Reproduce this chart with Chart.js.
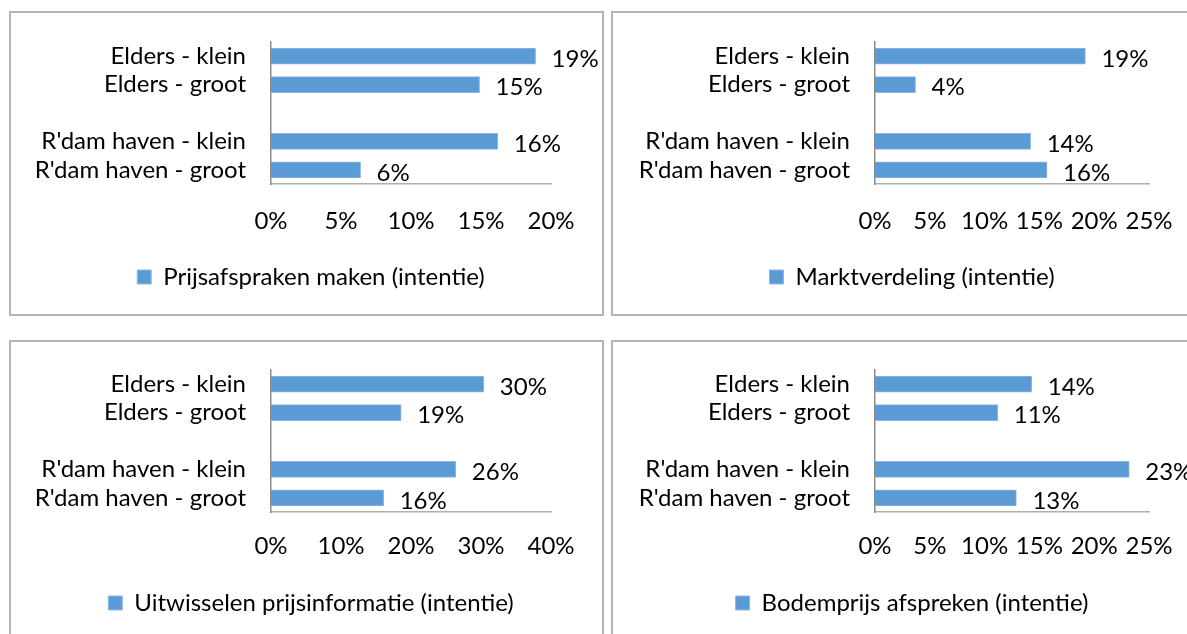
<!DOCTYPE html>
<html>
<head>
<meta charset="utf-8">
<script src="https://cdn.jsdelivr.net/npm/chart.js@4.4.1/dist/chart.umd.min.js"></script>
<style>
  body { margin: 0; background: #fff; width: 1187px; height: 634px; overflow: hidden; position: relative; }
  .panel { position: absolute; box-sizing: border-box; border: 2px solid #b4b4b4; width: 595px; height: 305px; }
  canvas { position: absolute; }
</style>
</head>
<body>
<div class="panel" style="left:9px; top:11px;"></div>
<div class="panel" style="left:611px; top:11px;"></div>
<div class="panel" style="left:9px; top:340px;"></div>
<div class="panel" style="left:611px; top:340px;"></div>
<canvas id="c1" width="604" height="305" style="left:9px; top:11px;"></canvas>
<canvas id="c2" width="602" height="305" style="left:611px; top:11px;"></canvas>
<canvas id="c3" width="604" height="305" style="left:9px; top:340px;"></canvas>
<canvas id="c4" width="602" height="305" style="left:611px; top:340px;"></canvas>
<script>
// categories (top to bottom), empty slot separates the two groups
const categories = ['Elders - klein', 'Elders - groot', '', "R'dam haven - klein", "R'dam haven - groot"];

// values in percent
const prijsafspraken = [18.9, 14.9, null, 16.2, 6.4];
const marktverdeling = [19.2, 3.7, null, 14.2, 15.7];
const prijsinformatie = [30.4, 18.6, null, 26.4, 16.1];
const bodemprijs = [14.3, 11.2, null, 23.2, 12.9];

const seriesNames = [
  'Prijsafspraken maken (intentie)',
  'Marktverdeling (intentie)',
  'Uitwisselen prijsinformatie (intentie)',
  'Bodemprijs afspreken (intentie)'
];
const axisMax = [20, 25, 40, 25];
const axisStep = [5, 5, 10, 5];

const BLUE = '#5b9bd5';
const FONT = 'Lato, Carlito, sans-serif';
const FS = 24;

Chart.defaults.font.family = FONT;
Chart.defaults.font.size = FS;
Chart.defaults.color = '#000';

// value labels at the end of each bar
const valueLabels = {
  id: 'valueLabels',
  afterDatasetsDraw(chart) {
    const ctx = chart.ctx;
    const data = chart.data.datasets[0].data;
    ctx.save();
    ctx.font = FS + 'px ' + FONT;
    ctx.fillStyle = '#000';
    ctx.textAlign = 'left';
    ctx.textBaseline = 'middle';
    chart.getDatasetMeta(0).data.forEach((bar, i) => {
      if (data[i] == null) return;
      ctx.fillText(Math.round(data[i]) + '%', bar.x + 16, bar.y + 3);
    });
    ctx.restore();
  }
};

function makeChart(id, name, values, max, step, geo) {
  return new Chart(document.getElementById(id), {
    type: 'bar',
    data: {
      labels: categories,
      datasets: [{
        label: name,
        data: values,
        backgroundColor: BLUE,
        borderColor: '#8fb9e3',
        borderWidth: 1,
        barThickness: 16
      }]
    },
    options: {
      indexAxis: 'y',
      responsive: false,
      animation: false,
      devicePixelRatio: 1,
      layout: { padding: { left: 0, right: 0, top: geo.padTop, bottom: geo.padBottom } },
      plugins: {
        legend: {
          position: 'bottom',
          labels: { boxWidth: 14, boxHeight: 14, padding: 10, font: { size: FS } }
        },
        tooltip: { enabled: false }
      },
      scales: {
        x: {
          min: 0, max: max,
          ticks: { stepSize: step, padding: 0, callback: v => v + '%' },
          grid: { display: false, drawTicks: true, tickLength: geo.tickPad },
          border: { display: true, color: '#b0b0b0', width: 1.5 },
          afterFit: s => { s.height = geo.axisH; }
        },
        y: {
          ticks: { padding: 0, autoSkip: false },
          grid: { display: false, drawTicks: true, tickLength: 25 },
          border: { display: true, color: '#8c8c8c', width: 1.5 },
          afterFit: s => { s.width = geo.yW; }
        },
        // empty spacer on the right so the legend centres on the whole panel
        spacer: {
          type: 'linear', axis: 'y', position: 'right', display: true,
          ticks: { display: false },
          grid: { display: false, drawTicks: false },
          border: { display: false },
          afterFit: s => { s.width = geo.rightW; }
        }
      }
    },
    plugins: [valueLabels]
  });
}

const topGeoL = { padTop: 31, padBottom: 17, tickPad: 23, axisH: 71, yW: 262, rightW: 62 };
const botGeoL = { padTop: 30, padBottom: 20, tickPad: 20, axisH: 69, yW: 262, rightW: 62 };
const topGeoR = { padTop: 31, padBottom: 17, tickPad: 23, axisH: 71, yW: 264, rightW: 64 };
const botGeoR = { padTop: 30, padBottom: 20, tickPad: 20, axisH: 69, yW: 264, rightW: 64 };

document.fonts.load(FS + 'px Lato').then(() => {
  makeChart('c1', seriesNames[0], prijsafspraken, axisMax[0], axisStep[0], topGeoL);
  makeChart('c2', seriesNames[1], marktverdeling, axisMax[1], axisStep[1], topGeoR);
  makeChart('c3', seriesNames[2], prijsinformatie, axisMax[2], axisStep[2], botGeoL);
  makeChart('c4', seriesNames[3], bodemprijs, axisMax[3], axisStep[3], botGeoR);
});
</script>
</body>
</html>
